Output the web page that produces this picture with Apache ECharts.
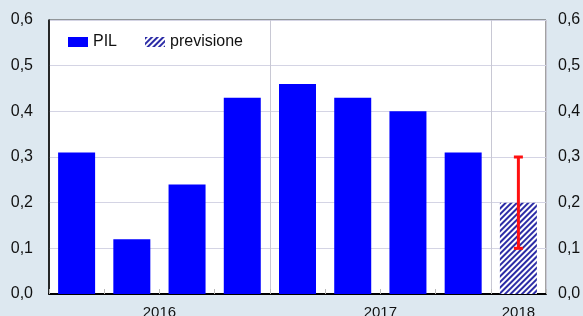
<!DOCTYPE html>
<html>
<head>
<meta charset="utf-8">
<script src="https://cdn.jsdelivr.net/npm/echarts@6/dist/echarts.min.js"></script>
<style>
html, body { margin: 0; padding: 0; background: #dde8f0; }
#container { width: 583px; height: 316px; }
</style>
</head>
<body>
<div id="container"></div>
<script>
var dom = document.getElementById("container");
var myChart = echarts.init(dom);

// trimestri 2016 Q1 .. 2018 Q1
var quarters = ['2016T1', '2016T2', '2016T3', '2016T4', '2017T1', '2017T2', '2017T3', '2017T4', '2018T1'];
var pil = [0.31, 0.12, 0.24, 0.43, 0.46, 0.43, 0.40, 0.31, '-'];
var previsione = ['-', '-', '-', '-', '-', '-', '-', '-', 0.2];
// intervallo della previsione
var errLow = [0.1];
var errHigh = [0.3];
var errIndex = [8];
// etichette anni (in mezzi trimestri)
var yearPos = [4, 12, 17];
var yearLabels = ['2016', '2017', '2018'];

var fontName = 'Liberation Sans, Arial, sans-serif';

function fmtY(v) {
    return v.toFixed(1).replace('.', ',');
}

var errData = [];
for (var i = 0; i < errIndex.length; i++) {
    errData.push([errIndex[i], errLow[i], errHigh[i]]);
}

var option = {
    backgroundColor: '#dde8f0',
    animation: false,
    grid: {
        left: 49, right: 37, top: 20, bottom: 22,
        outerBoundsMode: 'none',
        containLabel: false,
        show: true,
        backgroundColor: '#fff',
        borderColor: '#444',
        borderWidth: 1
    },
    legend: {
        left: 63, top: 29,
        itemWidth: 20, itemHeight: 10,
        itemGap: 28,
        icon: 'rect',
        textStyle: { fontFamily: fontName, fontSize: 16, color: '#111' },
        data: ['PIL', 'previsione']
    },
    xAxis: [{
        type: 'category',
        data: quarters,
        boundaryGap: true,
        axisLine: { lineStyle: { color: '#000', width: 2 } },
        axisTick: { show: true, inside: true, length: 5, interval: 0, lineStyle: { color: '#bbb' } },
        axisLabel: { show: false },
        splitLine: {
            show: true,
            interval: function (idx) { return idx === 4 || idx === 8; },
            lineStyle: { color: '#c8c8d4', width: 1 }
        }
    }, {
        type: 'value',
        min: 0, max: 18, interval: 1,
        position: 'bottom',
        axisLine: { show: false },
        axisTick: { show: false },
        splitLine: { show: false },
        axisLabel: {
            margin: 11,
            fontFamily: fontName, fontSize: 15, color: '#111',
            formatter: function (v) {
                var k = yearPos.indexOf(v);
                return k >= 0 ? yearLabels[k] : '';
            }
        }
    }],
    yAxis: [{
        type: 'value', min: 0, max: 0.6, interval: 0.1,
        position: 'left',
        axisLine: { show: true, lineStyle: { color: '#000', width: 1.5 } },
        axisTick: { show: false },
        axisLabel: { margin: 16, fontFamily: fontName, fontSize: 16, color: '#111', formatter: fmtY },
        splitLine: { lineStyle: { color: '#d4d4e4', width: 1 } }
    }, {
        type: 'value', min: 0, max: 0.6, interval: 0.1,
        position: 'right',
        axisLine: { show: false },
        axisTick: { show: false },
        axisLabel: { margin: 12, fontFamily: fontName, fontSize: 16, color: '#111', formatter: fmtY },
        splitLine: { show: false }
    }],
    series: [{
        name: 'PIL',
        type: 'bar',
        data: pil,
        barWidth: '67%',
        barGap: '-100%',
        itemStyle: { color: '#0000ff' }
    }, {
        name: 'previsione',
        type: 'bar',
        data: previsione,
        barWidth: '67%',
        barGap: '-100%',
        itemStyle: {
            color: '#ffffff',
            decal: {
                symbol: 'rect',
                symbolSize: 1,
                color: '#2c2ca6',
                dashArrayX: [1, 0],
                dashArrayY: [1.1, 1.1],
                rotation: -Math.PI / 4
            }
        }
    }, {
        name: 'errore',
        type: 'custom',
        data: errData,
        z: 5,
        renderItem: function (params, api) {
            var x = api.value(0);
            var lo = api.coord([x, api.value(1)]);
            var hi = api.coord([x, api.value(2)]);
            var cap = 4.5;
            var style = { stroke: '#ff1010', lineWidth: 3 };
            return {
                type: 'group',
                children: [
                    { type: 'line', shape: { x1: lo[0], y1: lo[1], x2: hi[0], y2: hi[1] }, style: style },
                    { type: 'line', shape: { x1: lo[0] - cap, y1: lo[1], x2: lo[0] + cap, y2: lo[1] }, style: style },
                    { type: 'line', shape: { x1: hi[0] - cap, y1: hi[1], x2: hi[0] + cap, y2: hi[1] }, style: style }
                ]
            };
        }
    }]
};

myChart.setOption(option);
</script>
</body>
</html>
